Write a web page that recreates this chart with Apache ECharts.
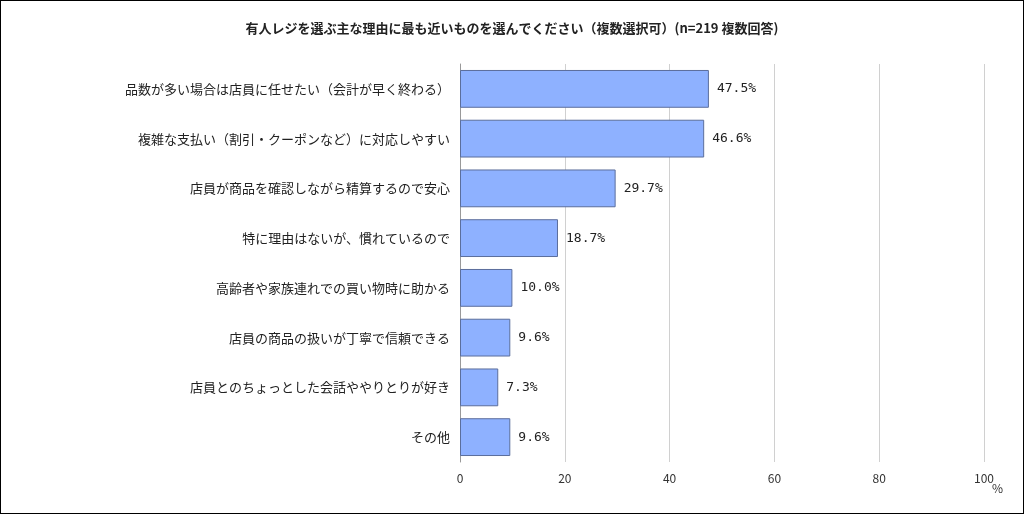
<!DOCTYPE html>
<html><head><meta charset="utf-8">
<script src="https://cdn.jsdelivr.net/npm/echarts@6/dist/echarts.min.js"></script>
<style>html,body{margin:0;padding:0;background:#fff}#c{width:1024px;height:514px;box-sizing:border-box;border:1px solid #000}</style>
</head><body><div id="c"></div>
<script>
const titleText = '有人レジを選ぶ主な理由に最も近いものを選んでください（複数選択可）(n=219 複数回答)';
const categories = ['品数が多い場合は店員に任せたい（会計が早く終わる）','複雑な支払い（割引・クーポンなど）に対応しやすい','店員が商品を確認しながら精算するので安心','特に理由はないが、慣れているので','高齢者や家族連れでの買い物時に助かる','店員の商品の扱いが丁寧で信頼できる','店員とのちょっとした会話ややりとりが好き','その他'];
const values = [47.5,46.6,29.7,18.7,10.0,9.6,7.3,9.6];
const xTicks = [0,20,40,60,80,100];
const chart = echarts.init(document.getElementById('c'));
const font = '"Noto Sans CJK JP", sans-serif';
chart.setOption({
  animation:false,
  title:{text:titleText,left:'center',top:16,textStyle:{fontFamily:font,fontSize:13,fontWeight:'bold',color:'#222'}},
  grid:{left:459,right:39,top:63,bottom:51,containLabel:false},
  xAxis:{type:'value',min:0,max:100,interval:20,
    axisLine:{show:false},axisTick:{show:false},
    splitLine:{lineStyle:{color:'#d0d0d0'}},
    axisLabel:{fontFamily:font,fontSize:12,color:'#333',margin:10,formatter:v=>xTicks.includes(v)?String(v):''}},
  yAxis:{type:'category',inverse:true,data:categories,
    axisLine:{lineStyle:{color:'#999'}},axisTick:{show:false},
    axisLabel:{fontFamily:font,fontSize:13,color:'#222',margin:10}},
  graphic:[{type:'text',left:991,top:481,style:{text:'%',font:'12px '+font,fill:'#333'}}],
  series:[{type:'bar',data:values,barCategoryGap:'24%',
    itemStyle:{color:'#8eb1ff',borderColor:'#5b6e9c',borderWidth:1},
    label:{show:true,position:'right',distance:8,formatter:p=>p.value.toFixed(1)+'%',fontFamily:'"DejaVu Sans Mono", monospace',fontSize:13,color:'#222'}}]
});
</script></body></html>
